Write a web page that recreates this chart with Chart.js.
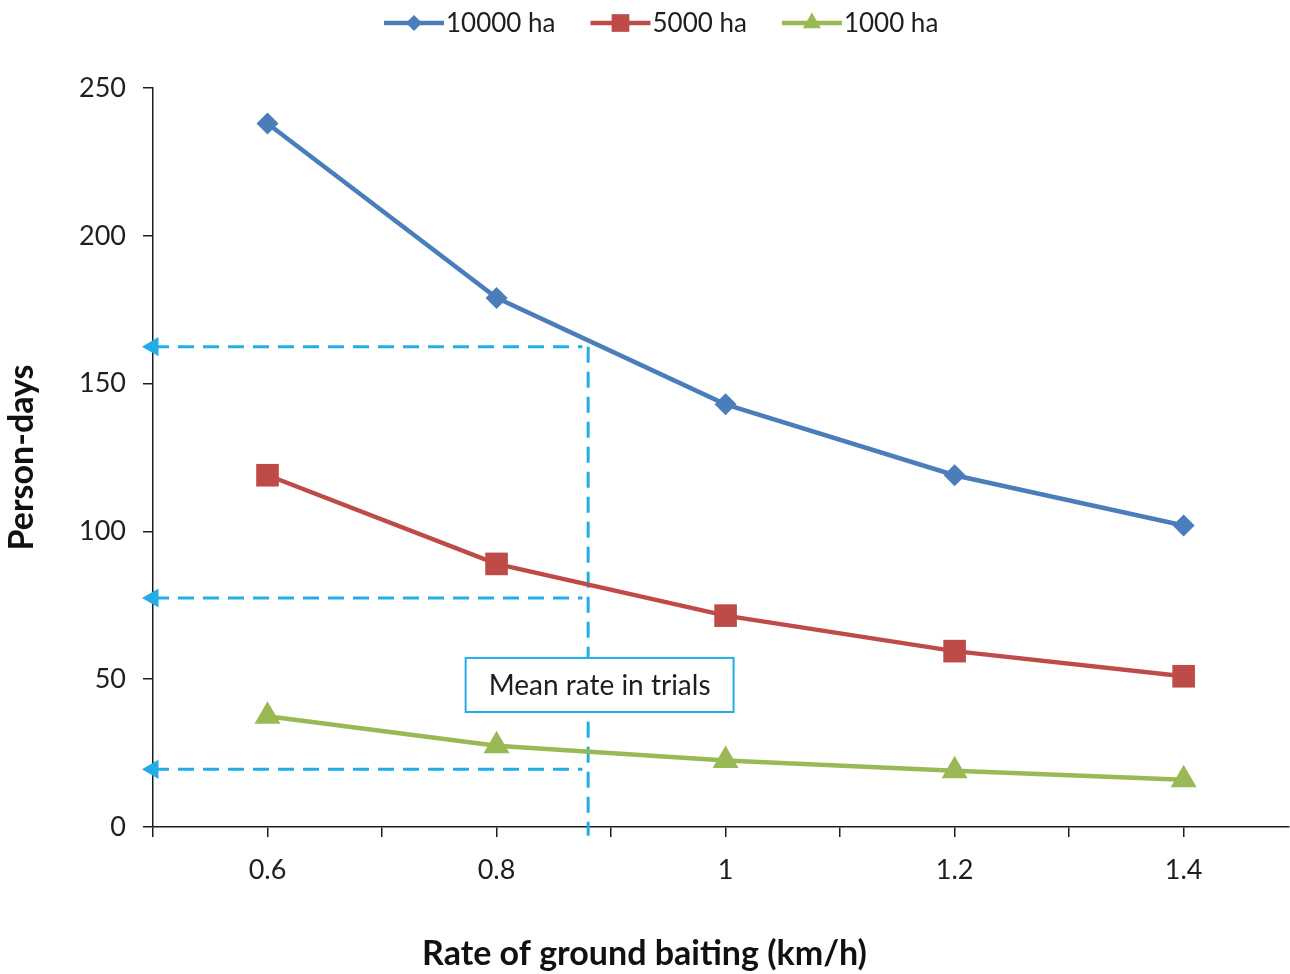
<!DOCTYPE html>
<html>
<head>
<meta charset="utf-8">
<script src="https://cdn.jsdelivr.net/npm/chart.js@4.4.0/dist/chart.umd.min.js"></script>
<style>
  html, body { margin: 0; padding: 0; background: #fff; }
</style>
</head>
<body>
<canvas id="chart" width="1290" height="974"></canvas>
<script>
// ── data ──
const rates = [0.6, 0.8, 1.0, 1.2, 1.4];
const xTickLabels = ['0.6', '0.8', '1', '1.2', '1.4'];
const xTickMarks = [0.5, 0.6, 0.7, 0.8, 0.9, 1.0, 1.1, 1.2, 1.3, 1.4];
const yTicks = [0, 50, 100, 150, 200, 250];

const days10000 = [238, 179, 143, 119, 102];
const days5000 = [119, 89, 71.5, 59.5, 51];
const days1000 = [37.5, 27.5, 22.5, 19, 16];
const seriesNames = ['10000 ha', '5000 ha', '1000 ha'];

const meanRate = 0.88;                   // mean rate in trials (km/h)
const readOffDays = [162.5, 77.5, 19.5]; // person-days read at mean rate
const noteText = 'Mean rate in trials';

Chart.defaults.font.family = "Lato, 'Open Sans', sans-serif";
Chart.defaults.color = '#1e1e1e';

const INK = '#1e1e1e';
const CYAN = '#22ade6';
const COLORS = { blue: '#4a7ebb', red: '#be4b48', green: '#98b954' };

const pts = (vals) => vals.map((v, i) => ({ x: rates[i], y: v }));

function seriesDs(label, vals, color, style, radius) {
  return {
    label, data: pts(vals),
    borderColor: color, backgroundColor: color,
    borderWidth: 4.5, tension: 0,
    pointStyle: style, pointRadius: radius, pointHoverRadius: radius,
    pointBackgroundColor: color, pointBorderWidth: 0,
  };
}

function guideDs(v) {
  return {
    label: '_guide', data: [{ x: 0.5, y: v }, { x: meanRate - 0.005, y: v }],
    borderColor: CYAN, borderWidth: 3, borderDash: [16, 9],
    pointStyle: 'triangle', pointRotation: -90,
    pointRadius: [11, 0], pointBackgroundColor: CYAN, pointBorderWidth: 0,
    clip: false, order: 5,
  };
}

/* legend: line + marker + text, like the office-style legend */
const lineLegend = {
  id: 'lineLegend',
  afterDraw(chart) {
    const ctx = chart.ctx;
    const y = 23;
    let x = 384;
    ctx.save();
    ctx.font = "26px Lato, 'Open Sans', sans-serif";
    ctx.textBaseline = 'middle';
    const sizes = [8, 12.5, 10.5];
    chart.data.datasets.slice(0, 3).forEach((ds, i) => {
      ctx.strokeStyle = ds.borderColor;
      ctx.fillStyle = ds.borderColor;
      ctx.lineWidth = 4.5;
      ctx.beginPath();
      ctx.moveTo(x, y);
      ctx.lineTo(x + 60, y);
      ctx.stroke();
      Chart.helpers.drawPoint(ctx, { pointStyle: ds.pointStyle, radius: sizes[i], rotation: 0, borderWidth: 0 }, x + 30, y);
      ctx.fillStyle = INK;
      ctx.fillText(ds.label, x + 62, y + 1);
      x += 62 + ctx.measureText(ds.label).width + 35;
    });
    ctx.restore();
  }
};

/* boxed note over the vertical guide */
const noteBox = {
  id: 'noteBox',
  afterDatasetsDraw(chart) {
    const { ctx, scales: { x, y } } = chart;
    const x0 = x.getPixelForValue(0.773), x1 = x.getPixelForValue(1.007);
    const y0 = y.getPixelForValue(57.2), y1 = y.getPixelForValue(38.9);
    ctx.save();
    ctx.fillStyle = '#fff';
    ctx.fillRect(x0, y0, x1 - x0, y1 - y0);
    ctx.strokeStyle = CYAN;
    ctx.lineWidth = 2;
    ctx.strokeRect(x0, y0, x1 - x0, y1 - y0);
    ctx.fillStyle = INK;
    ctx.font = "28px Lato, 'Open Sans', sans-serif";
    ctx.textAlign = 'center';
    ctx.textBaseline = 'middle';
    ctx.fillText(noteText, (x0 + x1) / 2, (y0 + y1) / 2 + 1);
    ctx.restore();
  }
};

new Chart(document.getElementById('chart'), {
  type: 'line',
  data: {
    datasets: [
      seriesDs(seriesNames[0], days10000, COLORS.blue, 'rectRot', 11),
      seriesDs(seriesNames[1], days5000, COLORS.red, 'rect', 16),
      seriesDs(seriesNames[2], days1000, COLORS.green, 'triangle', 15),
      {
        label: '_vertical', data: [{ x: meanRate, y: readOffDays[0] }, { x: meanRate, y: -3 }],
        borderColor: CYAN, borderWidth: 3, borderDash: [16, 9],
        pointRadius: 0, clip: false, order: 5,
      },
      ...readOffDays.map(guideDs),
    ]
  },
  options: {
    responsive: false,
    animation: false,
    layout: { autoPadding: false, padding: { top: 88, right: 1, bottom: 0, left: 0 } },
    plugins: {
      legend: { display: false },
      tooltip: { enabled: false },
      title: {
        display: true, position: 'bottom',
        text: 'Rate of ground baiting (km/h)',
        color: '#111', font: { size: 34, weight: 'bold' },
        padding: { top: 0, bottom: 0 },
      },
    },
    scales: {
      x: {
        type: 'linear', min: 0.5, max: 1.492,
        afterBuildTicks: (s) => { s.ticks = xTickMarks.map(v => ({ value: v })); },
        afterFit: (s) => { s.height = 106.2; },
        ticks: {
          autoSkip: false, maxRotation: 0, padding: 17,
          font: { size: 27 }, color: INK,
          callback: (v) => {
            const i = rates.indexOf(Math.round(v * 10) / 10);
            return i >= 0 ? xTickLabels[i] : '';
          },
        },
        grid: { drawOnChartArea: false, tickLength: 10, color: INK, lineWidth: 1.5 },
        border: { color: INK, width: 1.5 },
      },
      y: {
        min: 0, max: 250,
        afterBuildTicks: (s) => { s.ticks = yTicks.map(v => ({ value: v })); },
        afterFit: (s) => { s.width = 153; },
        ticks: { padding: 17, font: { size: 27 }, color: INK },
        grid: { drawOnChartArea: false, tickLength: 10, color: INK, lineWidth: 1.5 },
        border: { color: INK, width: 1.5 },
        title: {
          display: true, text: 'Person-days', color: '#111',
          font: { size: 34, weight: 'bold' }, padding: { top: 2, bottom: 0 },
        },
      },
    },
  },
  plugins: [lineLegend, noteBox],
});
</script>
</body>
</html>
